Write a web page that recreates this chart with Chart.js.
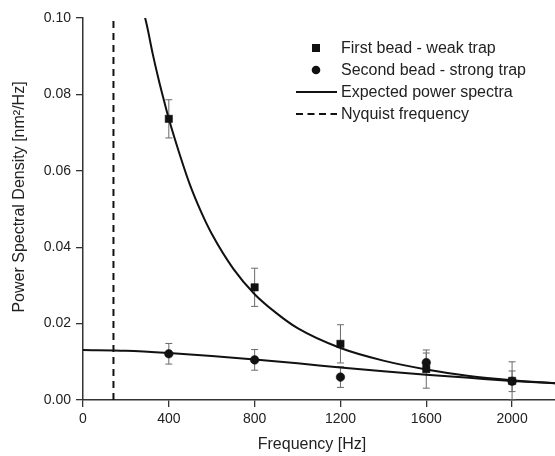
<!DOCTYPE html>
<html>
<head>
<meta charset="utf-8">
<script src="https://cdn.jsdelivr.net/npm/chart.js@4.4.1/dist/chart.umd.min.js"></script>
<style>
  body { margin: 0; background: #fff; }
  #wrap { width: 555px; height: 456px; }
</style>
</head>
<body>
<div id="wrap"><canvas id="psdChart"></canvas></div>
<script>
// measured points (Hz, nm^2/Hz)
const freqs = [400, 800, 1200, 1600, 2000];
const weakPsd = [0.0736, 0.0295, 0.0147, 0.0081, 0.0050];
const weakErr = [0.0050, 0.0050, 0.0050, 0.0050, 0.0050];
const strongPsd = [0.0121, 0.0105, 0.0060, 0.0098, 0.0049];
const strongErr = [0.0027, 0.0027, 0.0027, 0.0025, 0.0027];

// expected spectra
const weakFitFreq = [285, 300, 325, 350, 375, 400, 450, 500, 550, 600, 700, 800, 900, 1000, 1200, 1400, 1600, 1800, 2000, 2200];
const weakFitPsd = [0.1011, 0.0975, 0.0906, 0.0845, 0.0789, 0.0736, 0.0644, 0.0561, 0.0493, 0.0435, 0.0344, 0.0277, 0.0228, 0.0188, 0.0136, 0.0103, 0.0080, 0.0063, 0.0052, 0.0044];
const strongFitFreq = [0, 200, 400, 600, 800, 1000, 1200, 1400, 1600, 1800, 2000, 2200];
const strongFitPsd = [0.0131, 0.0129, 0.0123, 0.0115, 0.0106, 0.0096, 0.0085, 0.0075, 0.0066, 0.0058, 0.0050, 0.0044];

const nyquist = 142;

const xTicks = [0, 400, 800, 1200, 1600, 2000];
const legendLabels = ['First bead - weak trap', 'Second bead - strong trap', 'Expected power spectra', 'Nyquist frequency'];

const INK = '#111';
const FONT = "'Liberation Sans', Arial, Helvetica, sans-serif";

const toPts = (xs, ys) => xs.map((x, i) => ({ x, y: ys[i] }));

// error bars under the markers
const errorBars = {
    id: 'errorBars',
    beforeDatasetsDraw(chart) {
        const { ctx, scales: { x, y } } = chart;
        const sets = [[weakPsd, weakErr], [strongPsd, strongErr]];
        ctx.save();
        ctx.strokeStyle = '#6a6a6a';
        ctx.lineWidth = 1;
        sets.forEach(([vals, errs]) => {
            vals.forEach((v, i) => {
                const px = x.getPixelForValue(freqs[i]);
                const top = y.getPixelForValue(v + errs[i]);
                const bot = y.getPixelForValue(Math.max(0, v - errs[i]));
                ctx.beginPath();
                ctx.moveTo(px, top); ctx.lineTo(px, bot);
                ctx.moveTo(px - 3.5, top); ctx.lineTo(px + 3.5, top);
                ctx.moveTo(px - 3.5, bot); ctx.lineTo(px + 3.5, bot);
                ctx.stroke();
            });
        });
        ctx.restore();
    }
};

// legend inside the plot + axis titles
const overlay = {
    id: 'overlay',
    afterDraw(chart) {
        const ctx = chart.ctx;
        ctx.save();
        ctx.fillStyle = INK;
        ctx.strokeStyle = INK;
        const mx = 316, tx = 341;
        const rows = [48, 70, 92, 114];

        ctx.fillRect(mx - 4, rows[0] - 4, 8, 8);
        ctx.beginPath();
        ctx.arc(mx, rows[1], 4.3, 0, Math.PI * 2);
        ctx.fill();

        ctx.lineWidth = 2;
        ctx.beginPath();
        ctx.moveTo(296, rows[2]); ctx.lineTo(337, rows[2]);
        ctx.stroke();
        ctx.setLineDash([7, 4.5]);
        ctx.beginPath();
        ctx.moveTo(296, rows[3]); ctx.lineTo(337, rows[3]);
        ctx.stroke();
        ctx.setLineDash([]);

        ctx.fillStyle = '#222';
        ctx.font = '16px ' + FONT;
        ctx.textBaseline = 'middle';
        ctx.textAlign = 'left';
        legendLabels.forEach((t, i) => ctx.fillText(t, tx, rows[i] + 1));

        ctx.textAlign = 'center';
        ctx.fillText('Frequency [Hz]', 312, 445);
        ctx.translate(20, 197);
        ctx.rotate(-Math.PI / 2);
        ctx.fillText('Power Spectral Density [nm\u00B2/Hz]', 0, 0);
        ctx.restore();
    }
};

const axisStyle = {
    grid: { drawOnChartArea: false, color: '#333', lineWidth: 1.3, tickLength: 7 },
    border: { display: true, color: '#333', width: 1.5 }
};

new Chart(document.getElementById('psdChart'), {
    type: 'scatter',
    data: {
        datasets: [
            { label: legendLabels[0], data: toPts(freqs, weakPsd), pointStyle: 'rect', pointRadius: 5.2,
              backgroundColor: INK, borderColor: INK, borderWidth: 0.5, showLine: false },
            { label: legendLabels[1], data: toPts(freqs, strongPsd), pointStyle: 'circle', pointRadius: 4.3,
              backgroundColor: INK, borderColor: INK, borderWidth: 0.5, showLine: false },
            { label: 'weak fit', type: 'line', data: toPts(weakFitFreq, weakFitPsd), borderColor: INK,
              borderWidth: 2, pointRadius: 0, cubicInterpolationMode: 'monotone', fill: false },
            { label: 'strong fit', type: 'line', data: toPts(strongFitFreq, strongFitPsd), borderColor: INK,
              borderWidth: 2, pointRadius: 0, cubicInterpolationMode: 'monotone', fill: false },
            { label: 'nyquist', type: 'line', data: [{ x: nyquist, y: 0 }, { x: nyquist, y: 0.1 }],
              borderColor: INK, borderWidth: 2, borderDash: [7, 5], pointRadius: 0, fill: false }
        ]
    },
    options: {
        responsive: true,
        maintainAspectRatio: false,
        animation: false,
        layout: { autoPadding: false, padding: { top: 18, right: 0, left: 0, bottom: 0 } },
        plugins: { legend: { display: false }, tooltip: { enabled: false } },
        scales: {
            x: {
                type: 'linear', min: 0, max: 2200,
                afterBuildTicks: s => { s.ticks = xTicks.map(v => ({ value: v })); },
                afterFit: s => { s.height = 56; },
                ticks: { color: '#222', font: { family: FONT, size: 14 }, padding: 4, maxRotation: 0,
                         callback: v => String(v) },
                ...axisStyle
            },
            y: {
                min: 0, max: 0.1,
                afterFit: s => { s.width = 83; },
                ticks: { stepSize: 0.02, color: '#222', font: { family: FONT, size: 14 }, padding: 5,
                         callback: v => v.toFixed(2) },
                ...axisStyle
            }
        }
    },
    plugins: [errorBars, overlay]
});
</script>
</body>
</html>
